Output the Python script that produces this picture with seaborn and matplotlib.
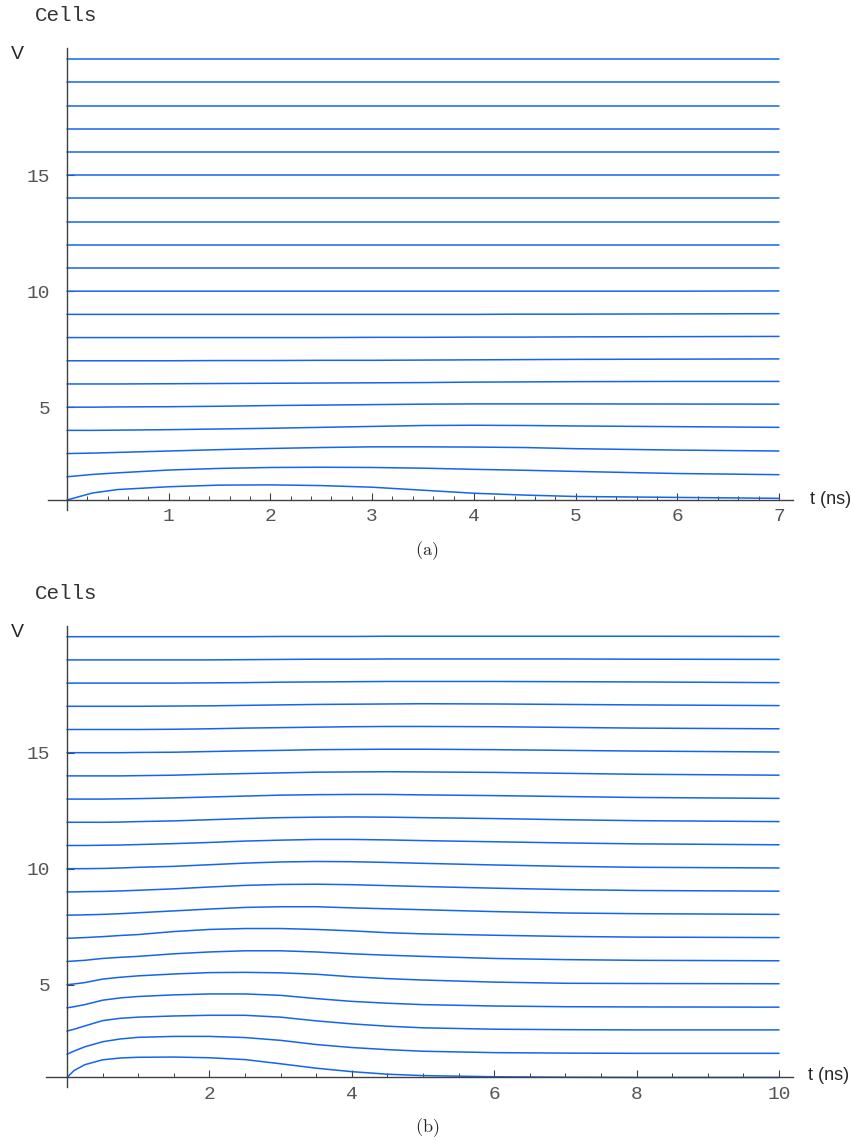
import numpy as np
import pandas as pd
import matplotlib
matplotlib.use("Agg")
import matplotlib.pyplot as plt
import seaborn as sns

# cells are stacked: cell k starts at level k, curves show the rise above it
cells = list(range(1, 21))

# panel (a): 0..7 ns
t_a = [0, 0.25, 0.5, 1, 1.5, 2, 2.5, 3, 3.5, 4, 4.5, 5, 6, 7]
rise_a = [
    [0, .30, .45, .57, .64, .65, .62, .55, .42, .29, .21, .15, .11, .07],
    [0, .10, .17, .29, .36, .40, .41, .40, .37, .32, .28, .23, .14, .09],
    [0, .02, .05, .11, .17, .22, .26, .29, .29, .28, .26, .21, .15, .11],
    [0, 0, .01, .03, .06, .09, .13, .17, .21, .22, .21, .19, .16, .13],
    [0, 0, .01, .02, .04, .07, .09, .11, .13, .14, .14, .14, .135, .13],
    [0, 0, 0, .01, .02, .03, .04, .05, .06, .08, .09, .10, .11, .11],
    [0, 0, 0, 0, .01, .01, .02, .02, .03, .04, .05, .06, .07, .08],
    [0, 0, 0, 0, 0, 0, 0, .01, .01, .02, .02, .03, .04, .05],
    [0, 0, 0, 0, 0, 0, 0, 0, 0, 0, .01, .01, .02, .03],
    [0, 0, 0, 0, 0, 0, 0, 0, 0, 0, 0, 0, 0, .01],
] + [[0.0] * 14 for _ in range(10)]

# panel (b): 0..10 ns
t_b = [0, 0.1, 0.25, 0.5, 0.75, 1, 1.5, 2, 2.5, 3, 3.5, 4, 4.5, 5, 6, 7, 8, 10]
rise_b = [
    [0, .30, .55, .76, .84, .87, .88, .85, .77, .59, .40, .25, .14, .08, .03, .01, 0, 0],
    [0, .14, .32, .54, .66, .73, .77, .77, .72, .60, .42, .29, .20, .13, .07, .05, .04, .04],
    [0, .08, .22, .45, .55, .60, .65, .68, .68, .60, .44, .31, .21, .14, .08, .06, .05, .05],
    [0, .05, .14, .33, .43, .49, .56, .60, .60, .54, .40, .28, .20, .14, .08, .05, .04, .03],
    [0, .03, .09, .24, .32, .38, .46, .52, .53, .51, .45, .34, .26, .20, .11, .06, .05, .04],
    [0, .02, .05, .13, .18, .22, .33, .41, .46, .46, .41, .33, .27, .22, .13, .08, .05, .03],
    [0, .01, .03, .07, .12, .16, .29, .38, .42, .42, .38, .32, .24, .19, .13, .08, .05, .03],
    [0, 0, .01, .03, .06, .10, .18, .26, .33, .36, .36, .31, .27, .23, .15, .09, .06, .03],
    [0, 0, .01, .02, .04, .07, .13, .21, .28, .32, .33, .31, .27, .23, .16, .10, .06, .03],
    [0, 0, 0, .01, .03, .06, .10, .17, .24, .29, .31, .30, .27, .23, .16, .10, .06, .03],
    [0, 0, 0, .01, .02, .04, .08, .13, .19, .23, .26, .26, .24, .21, .16, .11, .07, .03],
    [0, 0, 0, 0, .01, .03, .06, .11, .16, .20, .22, .23, .22, .20, .16, .11, .07, .03],
    [0, 0, 0, 0, .01, .02, .05, .09, .13, .17, .19, .20, .20, .18, .15, .11, .07, .03],
    [0, 0, 0, 0, 0, .01, .03, .07, .10, .13, .16, .17, .18, .17, .15, .11, .07, .03],
    [0, 0, 0, 0, 0, .01, .02, .05, .08, .10, .13, .14, .15, .15, .13, .10, .07, .03],
    [0, 0, 0, 0, 0, 0, .01, .03, .06, .08, .10, .12, .13, .13, .12, .09, .06, .03],
    [0, 0, 0, 0, 0, 0, .01, .02, .04, .06, .08, .09, .10, .11, .10, .08, .06, .03],
    [0, 0, 0, 0, 0, 0, 0, .01, .02, .04, .05, .06, .07, .07, .07, .06, .05, .02],
    [0, 0, 0, 0, 0, 0, 0, 0, .01, .02, .03, .03, .04, .04, .04, .04, .03, .02],
    [0, 0, 0, 0, 0, 0, 0, 0, 0, .01, .01, .01, .02, .02, .02, .02, .02, .01],
]


def to_long(t, rise):
    rows = []
    for c, r in zip(cells, rise):
        for ti, ri in zip(t, r):
            rows.append({"cell": c, "t": ti, "V": c + ri})
    return pd.DataFrame(rows)


sns.set_style("white")
plt.rcParams["font.family"] = ["Liberation Mono", "DejaVu Sans Mono"]
plt.rcParams["mathtext.fontset"] = "cm"

W, H = 851, 1142
fig = plt.figure(figsize=(W / 100, H / 100), dpi=100)

blue = "#1464f0"
axis_col = "#404040"


def px(x0, y0, x1, y1):
    # pixel box -> figure fraction rect
    return [x0 / W, 1 - y1 / H, (x1 - x0) / W, (y1 - y0) / H]


def panel(rect, t, rise, xlim, xmax_axis, xmajor, xminor, top_px, cap, cap_y):
    ax = fig.add_axes(rect)
    df = to_long(t, rise)
    sns.lineplot(data=df, x="t", y="V", units="cell", estimator=None,
                 color=blue, lw=1.1, ax=ax, legend=False)
    ax.set_xlim(*xlim)
    ax.set_ylim(0.55, 20.5)
    for s in ["top", "right"]:
        ax.spines[s].set_visible(False)
    ax.spines["left"].set_position(("data", 0))
    ax.spines["bottom"].set_position(("data", 1))
    ax.spines["left"].set_bounds(0.57, 20.47)
    ax.spines["bottom"].set_bounds(xlim[0] + 0.01, xmax_axis)
    for s in ["left", "bottom"]:
        ax.spines[s].set_color(axis_col)
        ax.spines[s].set_linewidth(1.0)
    ax.set_xticks(xmajor)
    ax.set_xticks(xminor, minor=True)
    ax.set_yticks([5, 10, 15])
    ax.tick_params(axis="x", which="major", bottom=True, direction="in", length=5,
                   width=0.8, color=axis_col, labelsize=14, labelcolor="#555555", pad=6)
    ax.tick_params(axis="x", which="minor", bottom=True, direction="in", length=3,
                   width=0.7, color=axis_col)
    ax.tick_params(axis="y", which="major", left=True, direction="in", length=5,
                   width=0.8, color=axis_col, labelsize=14, labelcolor="#555555", pad=12)
    ax.set_xticklabels([str(v) for v in xmajor])
    ax.set_xlabel("")
    ax.set_ylabel("")
    ax.grid(False)
    fig.text(35 / W, 1 - (top_px - 32) / H, "Cells", fontsize=15, color="#333333",
             ha="left", va="center")
    fig.text(17 / W, 1 - (top_px + 7) / H, "V", fontsize=14,
             family="Liberation Sans", ha="center", va="center")
    fig.text(427 / W, 1 - cap_y / H, cap, fontsize=13, ha="center", va="center")
    return ax


# panel (a): x 0 at px 67, 7 at px 779; y 1 at px 500, 23.2 px per unit
ax_a = panel(px(46.7, 47.6, 794.2, 510.4), t_a, rise_a, (-0.2, 7.15), 7.14,
             [1, 2, 3, 4, 5, 6, 7], np.arange(0.2, 7.01, 0.2), 47.6,
             r"$\mathrm{(a)}$", 551)
fig.text(810 / W, 1 - 499 / H, "t (ns)", fontsize=13, family="Liberation Sans",
         ha="left", va="center")

# panel (b): x 0 at px 67, 10 at px 779; y 1 at px 1077.5
ax_b = panel(px(45.6, 625.1, 794.7, 1087.9), t_b, rise_b, (-0.3, 10.22), 10.2,
             [2, 4, 6, 8, 10], np.arange(0.5, 10.01, 0.5), 625.1,
             r"$\mathrm{(b)}$", 1128)
fig.text(808 / W, 1 - 1076 / H, "t (ns)", fontsize=13, family="Liberation Sans",
         ha="left", va="center")

fig.savefig("out.png", dpi=100)
